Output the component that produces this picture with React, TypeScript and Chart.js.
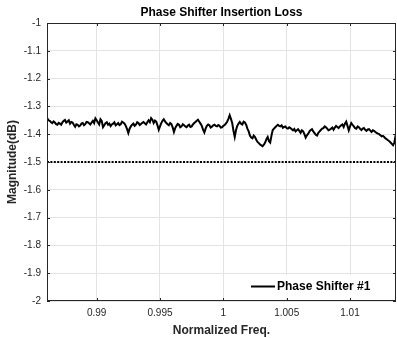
import React, { useEffect, useRef } from "react";
import { Chart, registerables } from "chart.js";

Chart.register(...registerables);

const TITLE = "Phase Shifter Insertion Loss";
const X_LABEL = "Normalized Freq.";
const Y_LABEL = "Magnitude(dB)";
const SERIES_NAME = "Phase Shifter #1";

const X_MIN = 0.98608;
const X_MAX = 1.01363;
const X_TICKS = [0.99, 0.995, 1, 1.005, 1.01];
const X_TICK_LABELS = ["0.99", "0.995", "1", "1.005", "1.01"];
const Y_TICKS = [-2, -1.9, -1.8, -1.7, -1.6, -1.5, -1.4, -1.3, -1.2, -1.1, -1];
const Y_TICK_LABELS = ["-2", "-1.9", "-1.8", "-1.7", "-1.6", "-1.5", "-1.4", "-1.3", "-1.2", "-1.1", "-1"];

// frequency sweep grid
const FREQ_START = 0.9861;
const FREQ_STEP = 0.0001;

// measured insertion loss (dB), one value per sweep point
const LOSS = [
  -1.343, -1.350, -1.352, -1.357, -1.36, -1.354, -1.358, -1.364, -1.366, -1.359,
  -1.362, -1.366, -1.357, -1.352, -1.349, -1.358, -1.354, -1.350, -1.362, -1.356,
  -1.358, -1.366, -1.373, -1.364, -1.366, -1.372, -1.369, -1.362, -1.36, -1.368,
  -1.364, -1.356, -1.357, -1.361, -1.365, -1.358, -1.352, -1.36, -1.343, -1.35,
  -1.358, -1.365, -1.346, -1.352, -1.375, -1.368, -1.36, -1.357, -1.366, -1.362,
  -1.371, -1.365, -1.362, -1.357, -1.368, -1.364, -1.36, -1.367, -1.364, -1.355,
  -1.358, -1.362, -1.37, -1.382, -1.396, -1.38, -1.372, -1.366, -1.362, -1.37,
  -1.366, -1.357, -1.36, -1.367, -1.363, -1.359, -1.356, -1.361, -1.365, -1.357,
  -1.35, -1.357, -1.342, -1.348, -1.36, -1.351, -1.355, -1.368, -1.384, -1.372,
  -1.36, -1.352, -1.346, -1.354, -1.36, -1.364, -1.368, -1.36, -1.364, -1.375,
  -1.392, -1.378, -1.37, -1.363, -1.366, -1.375, -1.372, -1.364, -1.368, -1.372,
  -1.375, -1.369, -1.366, -1.374, -1.372, -1.365, -1.36, -1.356, -1.352, -1.348,
  -1.355, -1.362, -1.37, -1.384, -1.394, -1.38, -1.37, -1.365, -1.368, -1.376,
  -1.373, -1.368, -1.366, -1.37, -1.372, -1.367, -1.37, -1.376, -1.375, -1.37,
  -1.367, -1.362, -1.355, -1.345, -1.332, -1.345, -1.36, -1.388, -1.41, -1.385,
  -1.37, -1.362, -1.356, -1.362, -1.365, -1.355, -1.358, -1.366, -1.38, -1.39,
  -1.405, -1.412, -1.415, -1.405, -1.41, -1.42, -1.428, -1.432, -1.437, -1.44,
  -1.443, -1.438, -1.43, -1.418, -1.41, -1.425, -1.43, -1.405, -1.385, -1.38,
  -1.375, -1.37, -1.366, -1.37, -1.372, -1.368, -1.377, -1.374, -1.372, -1.378,
  -1.38, -1.375, -1.378, -1.382, -1.386, -1.381, -1.39, -1.386, -1.382, -1.388,
  -1.395, -1.386, -1.39, -1.4, -1.412, -1.404, -1.398, -1.39, -1.385, -1.382,
  -1.39, -1.396, -1.402, -1.405, -1.395, -1.39, -1.385, -1.38, -1.378, -1.372,
  -1.375, -1.38, -1.386, -1.384, -1.38, -1.376, -1.384, -1.376, -1.37, -1.374,
  -1.378, -1.372, -1.368, -1.365, -1.374, -1.362, -1.355, -1.37, -1.386, -1.372,
  -1.36, -1.366, -1.372, -1.378, -1.38, -1.372, -1.375, -1.381, -1.385, -1.38,
  -1.378, -1.384, -1.388, -1.383, -1.382, -1.387, -1.392, -1.386, -1.388, -1.392,
  -1.395, -1.398, -1.4, -1.404, -1.408, -1.406, -1.41, -1.415, -1.418, -1.422,
  -1.425, -1.43, -1.435, -1.44, -1.43, -1.405, -1.388,
];

const REFERENCE_LEVEL = -1.5;

const FONT = "'Liberation Sans', Arial, Helvetica, sans-serif";
const AXIS_COLOR = "#262626";
const GRID_COLOR = "#e3e3e3";

const frameAndLegend = {
  id: "frameAndLegend",
  afterDatasetsDraw(chart: any) {
    const { ctx, chartArea } = chart;
    const { left, right, top, bottom } = chartArea;
    const xs = chart.scales.x;
    const ys = chart.scales.y;
    ctx.save();
    // legend box (white, borderless) at lower right
    const lx = right - 150;
    const ly = bottom - 26;
    ctx.fillStyle = "#ffffff";
    ctx.fillRect(lx, ly, 148, 23);
    ctx.strokeStyle = "#000";
    ctx.lineWidth = 2;
    ctx.beginPath();
    ctx.moveTo(lx + 5, ly + 11.5);
    ctx.lineTo(lx + 29, ly + 11.5);
    ctx.stroke();
    ctx.fillStyle = "#000";
    ctx.font = `bold 12px ${FONT}`;
    ctx.textBaseline = "middle";
    ctx.textAlign = "left";
    ctx.fillText(SERIES_NAME, lx + 31, ly + 12);

    // box
    ctx.strokeStyle = AXIS_COLOR;
    ctx.lineWidth = 1;
    ctx.strokeRect(Math.round(left) + 0.5, Math.round(top) + 0.5, Math.round(right - left) - 1, Math.round(bottom - top) - 1);
    // inward ticks
    ctx.beginPath();
    for (const v of X_TICKS) {
      const px = Math.round(xs.getPixelForValue(v)) + 0.5;
      ctx.moveTo(px, bottom);
      ctx.lineTo(px, bottom - 3);
      ctx.moveTo(px, top);
      ctx.lineTo(px, top + 3);
    }
    for (const v of Y_TICKS) {
      const py = Math.round(ys.getPixelForValue(v)) + 0.5;
      ctx.moveTo(left, py);
      ctx.lineTo(left + 3, py);
      ctx.moveTo(right, py);
      ctx.lineTo(right - 3, py);
    }
    ctx.stroke();
    ctx.restore();
  },
};

export default function App() {
  const ref = useRef<HTMLCanvasElement | null>(null);

  useEffect(() => {
    if (!ref.current) return;
    const lossPoints = LOSS.map((y, i) => ({ x: FREQ_START + i * FREQ_STEP, y }));
    const refPoints = [
      { x: X_MIN, y: REFERENCE_LEVEL },
      { x: X_MAX, y: REFERENCE_LEVEL },
    ];
    const chart = new Chart(ref.current, {
      type: "line",
      data: {
        datasets: [
          {
            label: SERIES_NAME,
            data: lossPoints,
            borderColor: "#000",
            borderWidth: 2,
            pointRadius: 0,
            tension: 0,
          },
          {
            label: "reference",
            data: refPoints,
            borderColor: "#000",
            borderWidth: 2,
            borderDash: [2, 1.4],
            pointRadius: 0,
          },
        ],
      },
      options: {
        animation: false,
        responsive: false,
        devicePixelRatio: 1,
        layout: { padding: { top: 0, right: 1, bottom: 0, left: 0 } },
        plugins: {
          legend: { display: false },
          tooltip: { enabled: false },
          title: {
            display: true,
            text: TITLE,
            fullSize: false,
            color: "#000",
            font: { family: FONT, size: 12, weight: "bold" },
            padding: { top: 5.5, bottom: 3.1 },
          },
        },
        scales: {
          x: {
            type: "linear",
            min: X_MIN,
            max: X_MAX,
            afterBuildTicks: (scale: any) => {
              scale.ticks = X_TICKS.map((v) => ({ value: v }));
            },
            afterFit: (scale: any) => {
              scale.height = 37;
            },
            ticks: {
              callback: (_v: any, i: number) => X_TICK_LABELS[i],
              color: AXIS_COLOR,
              font: { family: FONT, size: 10 },
              padding: 6,
              maxRotation: 0,
              autoSkip: false,
            },
            grid: { color: GRID_COLOR, drawTicks: false },
            border: { display: false },
            title: {
              display: true,
              text: X_LABEL,
              color: AXIS_COLOR,
              font: { family: FONT, size: 12, weight: "bold" },
              padding: { top: 0, bottom: 0 },
            },
          },
          y: {
            type: "linear",
            min: -2,
            max: -1,
            afterBuildTicks: (scale: any) => {
              scale.ticks = Y_TICKS.map((v) => ({ value: v }));
            },
            afterFit: (scale: any) => {
              scale.width = 47;
            },
            ticks: {
              callback: (_v: any, i: number) => Y_TICK_LABELS[i],
              color: AXIS_COLOR,
              font: { family: FONT, size: 10 },
              padding: 6,
              autoSkip: false,
            },
            grid: { color: GRID_COLOR, drawTicks: false },
            border: { display: false },
            title: {
              display: true,
              text: Y_LABEL,
              color: AXIS_COLOR,
              font: { family: FONT, size: 12, weight: "bold" },
              padding: { top: 5.8, bottom: 0 },
            },
          },
        },
      },
      plugins: [frameAndLegend],
    });
    return () => chart.destroy();
  }, []);

  return (
    <div style={{ position: "absolute", left: 0, top: 0, width: 397, height: 338, background: "#fff" }}>
      <canvas ref={ref} width={397} height={338} style={{ display: "block" }} />
    </div>
  );
}
